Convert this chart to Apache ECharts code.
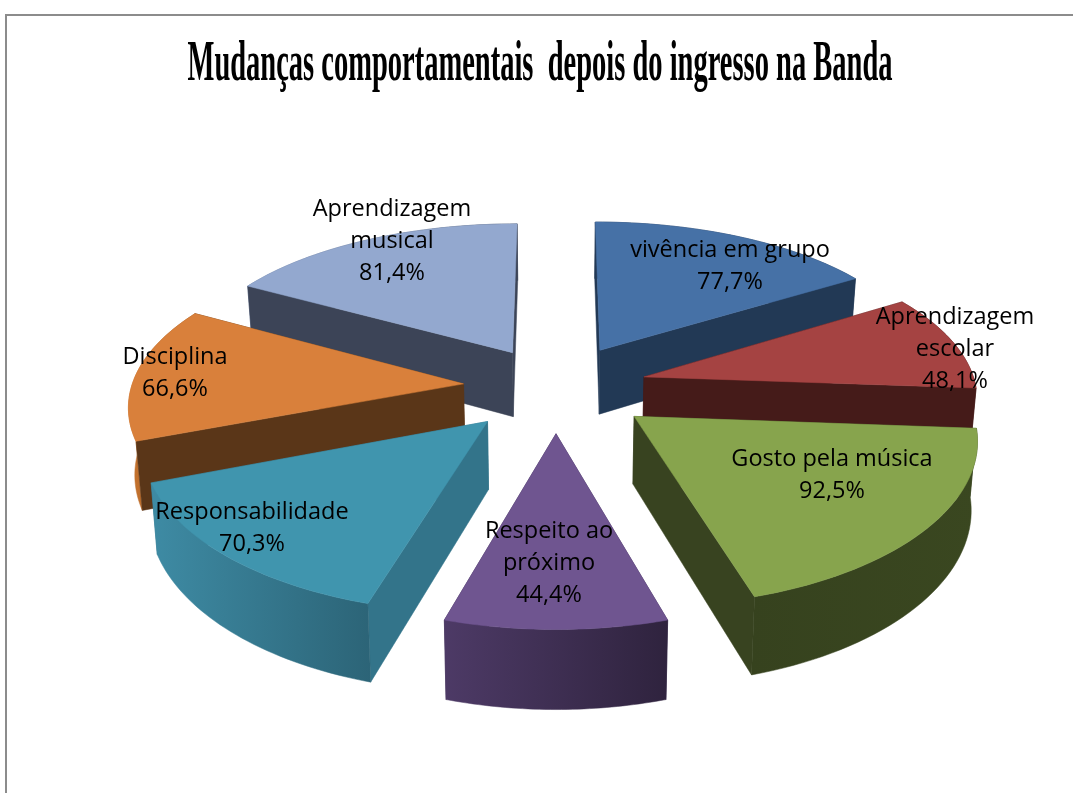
<!DOCTYPE html>
<html><head><meta charset="utf-8">
<style>html,body{margin:0;padding:0;background:#fff}#c{width:1073px;height:793px}</style>
<script src="https://cdn.jsdelivr.net/npm/echarts@6/dist/echarts.min.js"></script>
</head><body><div id="c"></div>
<script>
const titleText = 'Mudanças comportamentais  depois do ingresso na Banda';
const categories = ['vivência em grupo','Aprendizagem\nescolar','Gosto pela música','Respeito ao\npróximo','Responsabilidade','Disciplina','Aprendizagem\nmusical'];
const values = [77.7,48.1,92.5,44.4,70.3,66.6,81.4];
const valueLabels = ['77,7%','48,1%','92,5%','44,4%','70,3%','66,6%','81,4%'];

// styling and layout
const topColors  = ['#4671A6','#A54342','#87A44D','#6F5590','#4095AE','#D9803B','#93A8CF'];
const faceColors = ['#223955','#451B19','#384320','#3A2B50','#33748A','#5A3618','#3C4457'];
const rimColors  = [['#223955','#223955'],['#451B19','#451B19'],['#36421E','#3A4720'],['#4D3A66','#2F233E'],['#3E8BA4','#2C6477'],['#C9752F','#8A5020'],['#6B7DA3','#3C4457']];
const explode    = [0.28,0.275,0.295,0.29,0.295,0.28,0.265];
const labelCenters = [[730,266],[955,349],[832,475],[549,563],[252,528],[175,373],[392,241]];
const view = {cx:556, cy:387, B:332, A:155, kx:0.12, ky:0.136, H:66, taper:0.015};

const total = values.reduce((a,b)=>a+b,0);
const cum = values.reduce((acc,v)=>{acc.push(acc[acc.length-1]+v);return acc;},[0]);
const project = (u,v,z)=>{
  const sx = 1/(1-view.kx*v), sy = 1/(1-view.ky*v);
  return [view.cx+view.B*u*sx*(1-view.taper*z), view.cy+view.A*v*sy+view.H*z*sy];
};
const order = values.map((_,i)=>i).sort((a,b)=>{
  const m=i=>(cum[i]+cum[i+1])/total*Math.PI;
  return (-Math.cos(m(a)))-(-Math.cos(m(b)));
});
const renderItem = (params, api)=>{
  const i = params.dataIndex;
  const a0 = cum[i]/total*2*Math.PI, a1 = cum[i+1]/total*2*Math.PI, am=(a0+a1)/2;
  const ox = explode[i]*Math.sin(am), oy = -explode[i]*Math.cos(am);
  const arc=[]; const N=40;
  for(let j=0;j<=N;j++){const t=a0+(a1-a0)*j/N; arc.push([ox+Math.sin(t),oy-Math.cos(t)]);}
  const topPts=[[ox,oy],...arc].map(p=>project(p[0],p[1],0));
  const rimTop=arc.map(p=>project(p[0],p[1],0));
  const rimBot=arc.map(p=>project(p[0],p[1],1)).reverse();
  const quad=(p,q)=>[project(p[0],p[1],0),project(q[0],q[1],0),project(q[0],q[1],1),project(p[0],p[1],1)];
  const base=order.indexOf(i)*10+1;
  const poly=(pts,fill,z)=>({type:'polygon',z2:z,shape:{points:pts},style:{fill:fill,stroke:fill,lineWidth:0.5}});
  const rf=rimColors[i];
  const rimFill={type:'linear',x:0,y:0,x2:1,y2:0,colorStops:[{offset:0,color:rf[0]},{offset:1,color:rf[1]}]};
  const sides=[
    {d:(oy+arc[0][1])/2, pts:quad([ox,oy],arc[0]), fill:faceColors[i]},
    {d:(oy+arc[N][1])/2, pts:quad([ox,oy],arc[N]), fill:faceColors[i]},
    {d:arc[N>>1][1], pts:rimTop.concat(rimBot), fill:rimFill}
  ].sort((p,q)=>p.d-q.d);
  return {type:'group',children:[
    ...sides.map((s,n)=>poly(s.pts,s.fill,base+n)),
    poly(topPts,topColors[i],base+3),
    {type:'text',z2:500,style:{
      text:api.value(1)?categories[i]+'\n'+valueLabels[i]:'',
      x:labelCenters[i][0],y:labelCenters[i][1],align:'center',verticalAlign:'middle',
      font:'23.5px "Open Sans"',lineHeight:32,fill:'#000'}}
  ]};
};
const chart = echarts.init(document.getElementById('c'),null,{renderer:'canvas'});
chart.setOption({
  animation:false,
  graphic:[
    {type:'rect',silent:true,shape:{x:6,y:15,width:1200,height:900},style:{fill:'#fff',stroke:'#8c8c8c',lineWidth:2},z:0},
    {type:'text',silent:true,z:10,x:540,y:66,scaleX:0.509,scaleY:1,originX:0,originY:0,
     style:{text:titleText,font:'bold 56px "Liberation Serif"',fill:'#000',align:'center',verticalAlign:'middle'}}
  ],
  series:[{type:'custom',coordinateSystem:'none',renderItem,z:5,
    data:values.map((v,i)=>[i,v])}]
});
</script></body></html>
